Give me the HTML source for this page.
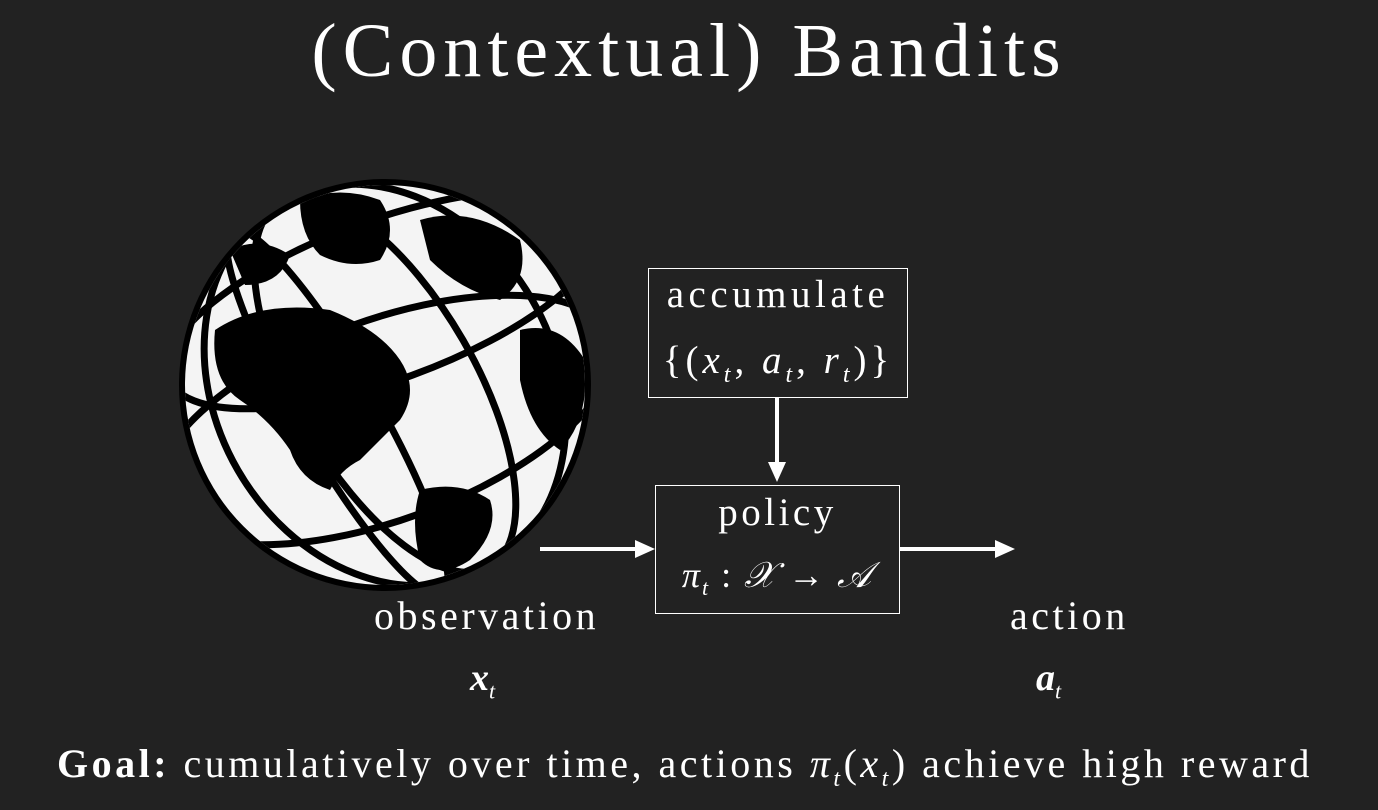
<!DOCTYPE html>
<html><head><meta charset="utf-8"><style>
html,body{margin:0;padding:0;background:#222222;}
body{width:1378px;height:810px;position:relative;overflow:hidden;font-family:"Liberation Serif",serif;color:#fff;}
.t{position:absolute;white-space:nowrap;letter-spacing:3.5px;}
.box{position:absolute;border:1.5px solid #fff;box-sizing:border-box;}
i{font-style:italic;}
</style></head><body>
<div class="t" style="left:0;width:1378px;text-align:center;top:8px;font-size:76px;letter-spacing:6px;">(Contextual) Bandits</div>

<svg width="1378" height="810" style="position:absolute;left:0;top:0">
<defs><clipPath id="c"><circle cx="385" cy="385" r="200"/></clipPath></defs>
<circle cx="385" cy="385" r="206" fill="#000"/>
<circle cx="385" cy="385" r="200" fill="#f4f4f4"/>
<g clip-path="url(#c)" fill="#000">
<path d="M215 330 Q260 300 330 310 Q380 330 400 360 Q420 390 400 420 Q380 440 360 460 Q340 470 330 490 Q300 480 290 450 Q270 420 240 400 Q210 380 215 330Z"/>
<path d="M300 200 Q340 185 380 200 Q400 230 380 260 Q350 270 320 255 Q300 235 300 200Z"/>
<path d="M420 220 Q470 205 520 240 Q530 280 500 300 Q460 290 430 260Z"/>
<path d="M420 490 Q460 480 490 500 Q500 530 470 560 Q440 580 420 560 Q410 520 420 490Z"/>
<path d="M520 330 Q560 320 585 360 Q590 420 560 450 Q530 430 520 380Z"/>
<path d="M230 250 Q260 235 290 255 Q280 285 245 285Z"/>
</g>
<g clip-path="url(#c)" fill="none" stroke="#000" stroke-width="7">
<ellipse cx="385" cy="300" rx="230" ry="80" transform="rotate(-20 385 300)"/>
<ellipse cx="385" cy="420" rx="240" ry="100" transform="rotate(-20 385 420)"/>
<ellipse cx="385" cy="385" rx="90" ry="210" transform="rotate(-30 385 385)"/>
<ellipse cx="385" cy="385" rx="170" ry="210" transform="rotate(-30 385 385)"/>
<ellipse cx="330" cy="385" rx="40" ry="210" transform="rotate(-30 385 385)"/>
</g>
<g stroke="#fff" stroke-width="4" fill="#fff">
<line x1="777" y1="398" x2="777" y2="465"/><polygon points="768,462 786,462 777,482" stroke="none"/>
<line x1="540" y1="549" x2="638" y2="549"/><polygon points="635,540 635,558 655,549" stroke="none"/>
<line x1="900" y1="549" x2="998" y2="549"/><polygon points="995,540 995,558 1015,549" stroke="none"/>
</g>
</svg>

<div class="box" style="left:648px;top:268px;width:260px;height:130px;"></div>
<div class="t" style="left:648px;width:260px;text-align:center;top:272px;font-size:39px;letter-spacing:4.5px;">accumulate</div>
<div class="t" style="left:648px;width:260px;text-align:center;top:338px;font-size:39px;letter-spacing:4px;">{(<i>x<sub style="font-size:24px">t</sub></i>, <i>a<sub style="font-size:24px">t</sub></i>, <i>r<sub style="font-size:24px">t</sub></i>)}</div>

<div class="box" style="left:655px;top:485px;width:245px;height:129px;"></div>
<div class="t" style="left:655px;width:245px;text-align:center;top:490px;font-size:39px;">policy</div>
<div class="t" style="left:655px;width:245px;text-align:center;top:554px;font-size:36px;letter-spacing:2px;"><i>π<sub style="font-size:22px">t</sub></i> : <i>𝒳</i> → <i>𝒜</i></div>

<div class="t" style="left:374px;top:592px;font-size:40px;">observation</div>
<div class="t" style="left:470px;top:656px;font-size:38px;letter-spacing:0;"><i><b>x</b><sub style="font-size:22px">t</sub></i></div>
<div class="t" style="left:1010px;top:592px;font-size:40px;">action</div>
<div class="t" style="left:1036px;top:656px;font-size:38px;letter-spacing:0;"><i><b>a</b><sub style="font-size:22px">t</sub></i></div>

<div class="t" style="left:57px;top:740px;font-size:40px;letter-spacing:3.5px;"><b>Goal:</b> cumulatively over time, actions <i>π<sub style="font-size:24px">t</sub></i>(<i>x<sub style="font-size:24px">t</sub></i>) achieve high reward</div>
</body></html>
